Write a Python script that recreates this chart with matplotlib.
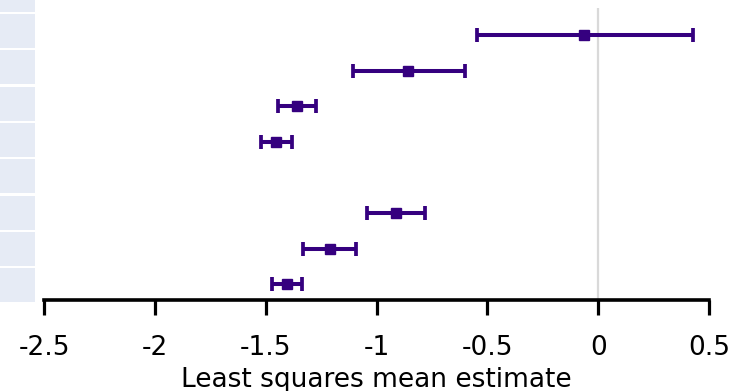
import matplotlib
matplotlib.use("Agg")
import matplotlib.pyplot as plt
from matplotlib.patches import Rectangle
import numpy as np

# least squares mean estimates with confidence limits, top row first
# (row 4 is an empty row in the original table)
estimate = [-0.063, -0.856, -1.358, -1.454, np.nan, -0.911, -1.210, -1.403]
lower = [-0.546, -1.108, -1.443, -1.520, np.nan, -1.041, -1.330, -1.470]
upper = [0.430, -0.600, -1.271, -1.383, np.nan, -0.781, -1.093, -1.336]
x_ticks = [-2.5, -2, -1.5, -1, -0.5, 0, 0.5]
x_label = "Least squares mean estimate"

W, H = 735, 391
fig = plt.figure(figsize=(W / 100, H / 100), dpi=100)
ax = fig.add_axes([44 / W, 1 - 300 / H, (709 - 44) / W, (300 - 8) / H])

rows = np.arange(len(estimate))
est = np.array(estimate)
err = [est - np.array(lower), np.array(upper) - est]
purple = "#35007f"

# reference line at zero
ax.axvline(0, color="#d9d9d9", lw=1.6, zorder=1)

ax.errorbar(est, rows, xerr=err, fmt="s", color=purple, ecolor=purple,
            markersize=6.5, elinewidth=2.9, capsize=4.8, capthick=2.7, zorder=3)

ax.set_xlim(-2.5, 0.5)
ax.set_ylim(7.44, -0.76)
ax.set_xticks(x_ticks)
ax.set_xticklabels([f"{t:g}" for t in x_ticks])
ax.set_yticks([])
for side in ["top", "right", "left"]:
    ax.spines[side].set_visible(False)
ax.spines["bottom"].set_linewidth(2.6)
ax.tick_params(axis="x", length=11, width=2.3, pad=14, labelsize=19)
ax.set_xlabel(x_label, fontsize=19, labelpad=4.5)

# shaded label cells to the left of the plot (cropped in the original)
for k in range(-1, 8):
    top = 14 + 36.3 * k
    bot = top + 34
    top = max(top, 0)
    fig.add_artist(Rectangle((0, 1 - bot / H), 35 / W, (bot - top) / H,
                             transform=fig.transFigure, color="#e6ebf5",
                             lw=0, zorder=0))

fig.savefig("out.png", dpi=100)
